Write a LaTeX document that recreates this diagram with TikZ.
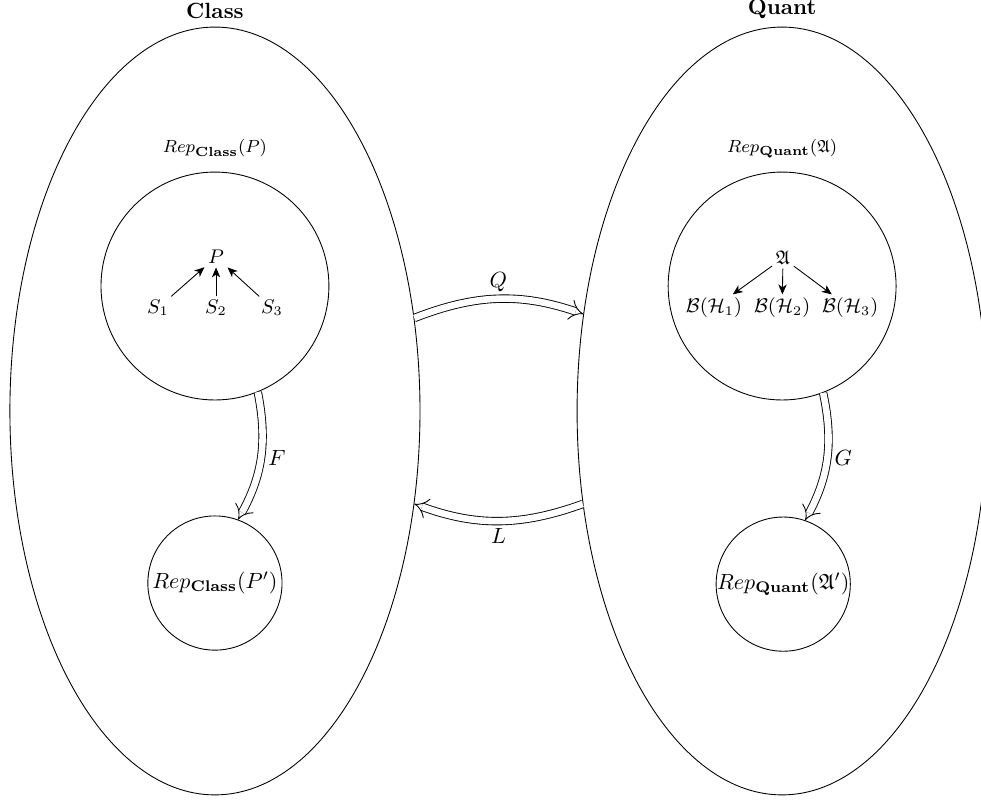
\documentclass[tikz,border=0pt]{standalone}
\usepackage{amsfonts}
\usepackage{amssymb}
\usepackage{amsmath}
\usetikzlibrary{shapes.geometric,arrows.meta,positioning}

\tikzset{
  world/.style={draw=black,ellipse,minimum width=186.4pt,minimum height=349pt,inner sep=0pt},
  bigrep/.style={draw=black,circle,minimum size=103.6pt,inner sep=0pt},
  smallrep/.style={draw=black,circle,minimum size=61pt,inner sep=0pt},
  functor/.style={draw=black,double,double distance=3pt,-{Implies},bend left=20},
  morph/.style={draw=black,-{Stealth[length=4.5pt,width=3.8pt,inset=1.3pt]}},
  obj/.style={font=\small,inner sep=1.5pt},
  replbl/.style={font=\footnotesize}
}

\begin{document}
\begin{tikzpicture}[x=1pt,y=1pt]
\useasboundingbox (0,0) rectangle (445.9,-365);
% the two worlds:
\node[world] (class) at (97.7,-186.8) {};
\node[world] (quant) at (355.5,-186.8) {};
\node[above=0pt of class.north] (classlbl) {\textbf{Class}};
\node[above=0pt of quant.north] (quantlbl) {\textbf{Quant}};
% classical side:
\node[bigrep] (repP) at (97.7,-130) {};
\node[replbl] (repPlbl) at (97.7,-67.5) {$Rep_{\mathbf{Class}}(P)$};
\node[obj] (P) at (98.2,-116.8) {$P$};
\node[obj] (S1) at (71.8,-140) {$S_1$};
\node[obj] (S2) at (98.2,-140) {$S_2$};
\node[obj] (S3) at (123.6,-140) {$S_3$};
\draw[morph] (S1) -- (P);
\draw[morph] (S2) -- (P);
\draw[morph] (S3) -- (P);
\node[smallrep] (repPp) at (97.7,-265) {$Rep_{\mathbf{Class}}(P')$};
% quantum side:
\node[bigrep] (repA) at (355.5,-130) {};
\node[replbl] (repAlbl) at (355.5,-67.5) {$Rep_{\mathbf{Quant}}(\mathfrak{A})$};
\node[obj] (A) at (355.9,-117.3) {$\mathfrak{A}$};
\node[obj] (B1) at (324.5,-140) {$\mathcal{B}(\mathcal{H}_1)$};
\node[obj] (B2) at (355.5,-140) {$\mathcal{B}(\mathcal{H}_2)$};
\node[obj] (B3) at (386.4,-140) {$\mathcal{B}(\mathcal{H}_3)$};
\draw[morph] (A) -- (B1);
\draw[morph] (A) -- (B2);
\draw[morph] (A) -- (B3);
\node[smallrep] (repAp) at (356,-265.5) {$Rep_{\mathbf{Quant}}(\mathfrak{A}')$};
% functors:
\path[functor] (repP.-68) to node[right] {$F$} (repPp.70);
\path[functor] (repA.-69) to node[right] {$G$} (repAp.71);
\path[functor] (class.25.2) to node[above] {$Q$} (quant.154.8);
\path[functor] (quant.205.2) to node[below] {$L$} (class.-25.2);
\end{tikzpicture}
\end{document}
